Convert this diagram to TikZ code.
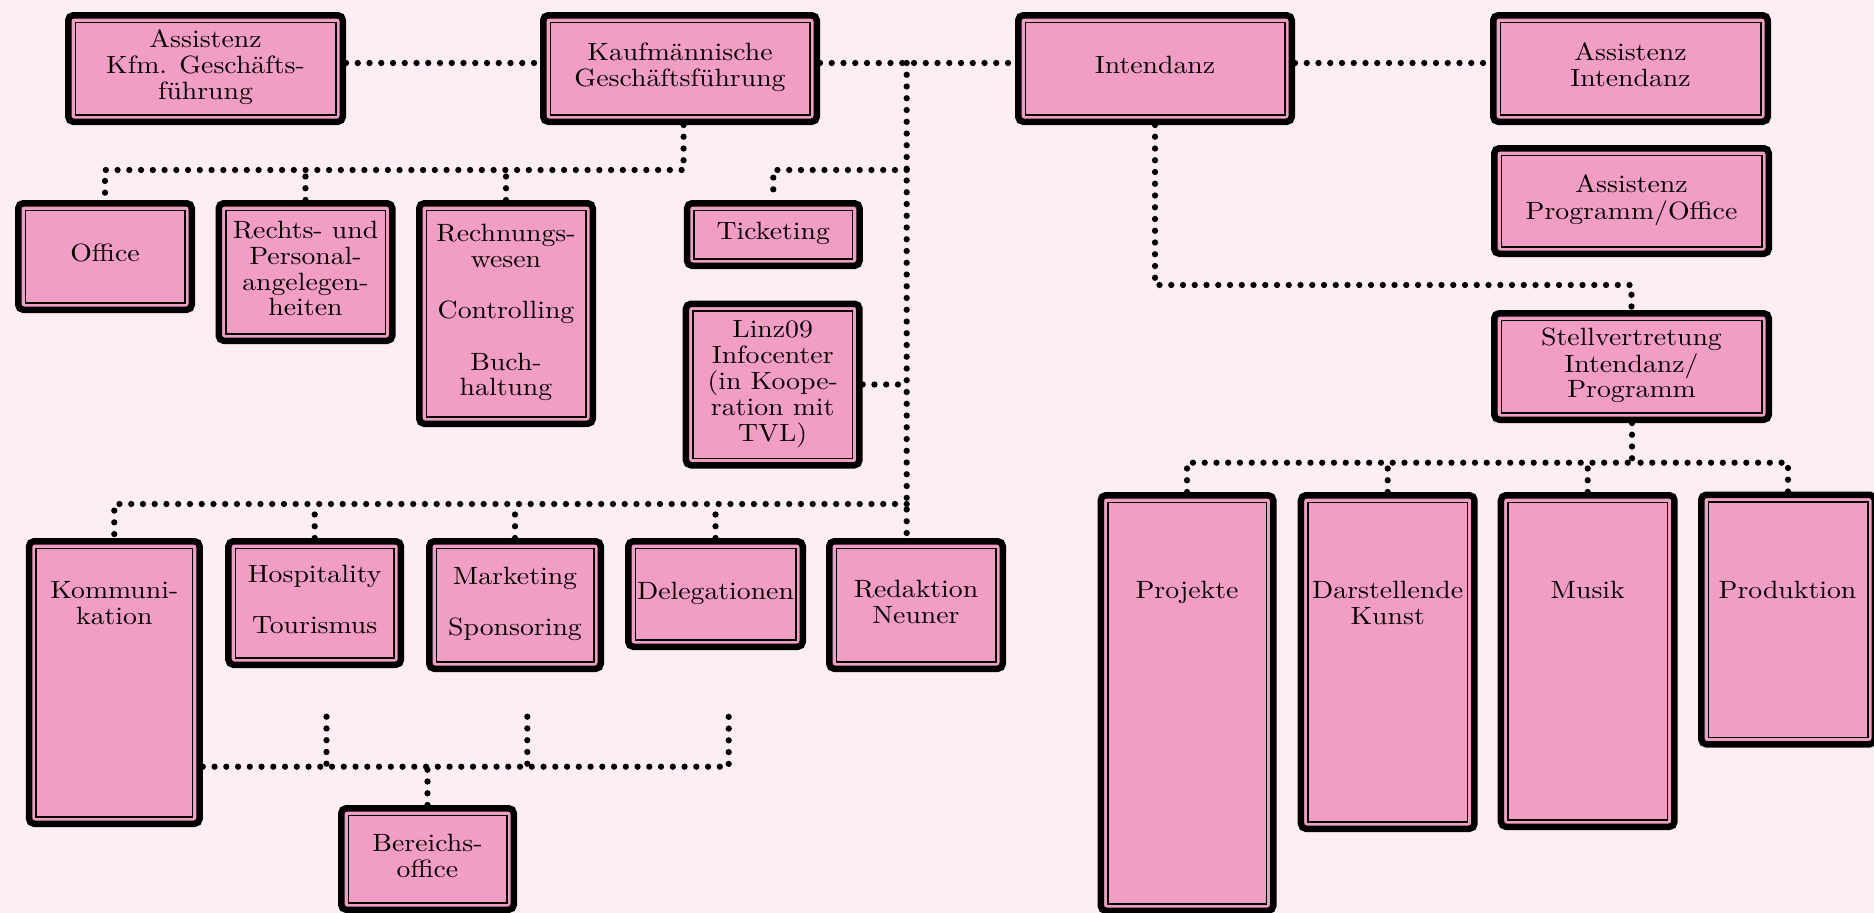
\documentclass[tikz,border=0pt]{standalone}
\usetikzlibrary{calc}
\definecolor{bgc}{RGB}{253,237,244}
\definecolor{boxc}{RGB}{242,157,196}
\newcommand\ftxt[1]{\scalebox{1.11}[1]{\fontsize{10}{10.3}\selectfont\begin{tabular}{@{}c@{}}#1\end{tabular}}}
\tikzset{
  box/.style={draw=black, line width=2.6pt, fill=boxc, rounded corners=2pt, inner sep=0pt, align=center,
    path picture={\draw[line width=0.6pt, sharp corners, black] ([xshift=2.8pt,yshift=-2.8pt]path picture bounding box.north west) rectangle ([xshift=-2.8pt,yshift=2.8pt]path picture bounding box.south east);}},
  sz/.style 2 args={minimum width=#1*0.4pt-2.6pt, minimum height=#2*0.4pt-2.6pt},
  conn/.style={line width=2.5pt, dash pattern=on 0pt off 4.7pt, line cap=round},
  lbl/.style={inner sep=0pt, anchor=north},
}
\begin{document}
\begin{tikzpicture}[x=0.4pt, y=-0.4pt]
\useasboundingbox (0,0) rectangle (1874,913);
\clip (0,0) rectangle (1874,913);
\fill[bgc] (0,0) rectangle (1874,913);

% top row
\node[box, sz={281}{113}] (AssK)   at (205.5,68.5) {\ftxt{Assistenz\\Kfm. Geschäfts-\\führung}};
\node[box, sz={280}{113}] (Kaufm)  at (680,68.5)   {\ftxt{Kaufmännische\\Geschäftsführung}};
\node[box, sz={280}{113}] (Intend) at (1155,68.5)  {\ftxt{Intendanz}};
\node[box, sz={281}{113}] (AssInt) at (1630.5,68.5) {\ftxt{Assistenz\\Intendanz}};
\node[box, sz={281}{112}] (AssProg) at (1631.5,201) {\ftxt{Assistenz\\Programm/Office}};
\node[box, sz={281}{113}] (Stellv) at (1631.5,366.5) {\ftxt{Stellvertretung\\Intendanz/\\Programm}};

% second row (left)
\node[box, sz={180}{113}] (Office) at (105,256.5) {\ftxt{Office}};
\node[box, sz={180}{144}] (Rechts) at (305.5,272) {\ftxt{Rechts- und\\Personal-\\angelegen-\\heiten}};
\node[box, sz={180}{227}] (Rechn)  at (506,313.5) {\ftxt{Rechnungs-\\wesen\\ \\Controlling\\ \\Buch-\\haltung}};
\node[box, sz={179}{69}]  (Tick)   at (773.3,234.5) {\ftxt{Ticketing}};
\node[box, sz={180}{168}] (Linz)   at (772.7,384.5) {\ftxt{Linz09\\Infocenter\\(in Koope-\\ration mit\\TVL)}};

% third row (left)
\node[box, sz={177}{289}] (Komm)  at (114.3,682.5) {};
\node[lbl] (KommT) at (114.3,580) {\ftxt{Kommuni-\\kation}};
\node[box, sz={179}{130}] (Hosp)  at (314.7,603) {\ftxt{Hospitality\\ \\Tourismus}};
\node[box, sz={178}{134}] (Mark)  at (515,605)   {\ftxt{Marketing\\ \\Sponsoring}};
\node[box, sz={181}{112}] (Deleg) at (715.5,594) {\ftxt{Delegationen}};
\node[box, sz={180}{134}] (Redak) at (916,605)   {\ftxt{Redaktion\\Neuner}};
\node[box, sz={179}{108}] (Bereich) at (427.5,859) {\ftxt{Bereichs-\\office}};

% right lower row
\node[box, sz={179}{422}] (Proj)  at (1187,703) {};
\node[lbl] (ProjT) at (1187,580) {\ftxt{Projekte}};
\node[box, sz={180}{340}] (Darst) at (1387.7,662) {};
\node[lbl] (DarstT) at (1387.7,580) {\ftxt{Darstellende\\Kunst}};
\node[box, sz={180}{338}] (Musik) at (1587.7,661) {};
\node[lbl] (MusikT) at (1587.7,580) {\ftxt{Musik}};
\node[box, sz={180}{256}] (Prod)  at (1788,619.5) {};
\node[lbl] (ProdT) at (1787.5,580) {\ftxt{Produktion}};

% junction coordinates
\coordinate (J1) at (906.7,63);
\coordinate (vT) at (906.7,170);
\coordinate (vB) at (906.7,504);
\coordinate (hK) at (683.6,170);
\coordinate (hI) at (1155,285);
\coordinate (hS) at (1632,462.7);
\coordinate (hB) at (427.5,766.7);
\coordinate (eB) at (728.7,766.7);
\coordinate (s1) at (326.5,716.7);
\coordinate (s2) at (527.3,716.7);
\coordinate (s3) at (728.7,716.7);

% connectors
\draw[conn] ([yshift=2.2pt]AssK.east) -- ([yshift=2.2pt]Kaufm.west);
\draw[conn] ([yshift=2.2pt]Kaufm.east) -- ([yshift=2.2pt]Intend.west);
\draw[conn] ([yshift=2.2pt]Intend.east) -- ([yshift=2.2pt]AssInt.west);

\draw[conn] (J1) -- (J1 |- Redak.north);
\draw[conn] (vT) -| (Tick.north);
\draw[conn] (Linz.east) -- (Linz.east -| J1);
\draw[conn] (vB) -| (Komm.north);
\draw[conn] (Hosp.north) -- (Hosp.north |- vB);
\draw[conn] (Mark.north) -- (Mark.north |- vB);
\draw[conn] (Deleg.north) -- (Deleg.north |- vB);

\draw[conn] (hK |- Kaufm.south) -- (hK) -| (Office.north);
\draw[conn] (Rechts.north) -- (Rechts.north |- hK);
\draw[conn] (Rechn.north) -- (Rechn.north |- hK);

\draw[conn] (Intend.south) -- (hI) -| (Stellv.north);

\draw[conn] (hS |- Stellv.south) -- (hS);
\draw[conn] (Proj.north) |- (hS);
\draw[conn] (Prod.north) |- (hS);
\draw[conn] (Darst.north) -- (Darst.north |- hS);
\draw[conn] (Musik.north) -- (Musik.north |- hS);

\draw[conn] (Komm.east |- hB) -- (eB) -- (s3);
\draw[conn] (s1) -- (s1 |- hB);
\draw[conn] (s2) -- (s2 |- hB);
\draw[conn] (Bereich.north) -- (hB);
\end{tikzpicture}
\end{document}
